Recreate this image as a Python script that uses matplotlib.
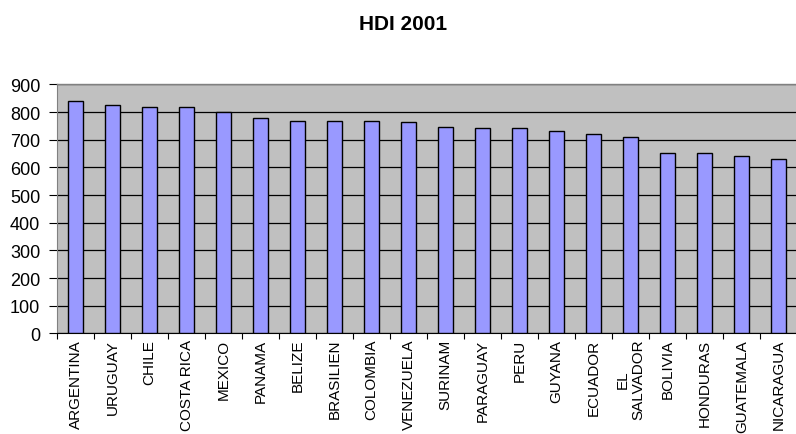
import matplotlib.pyplot as plt
import numpy as np

plt.rcParams['font.family'] = ['Liberation Sans', 'DejaVu Sans']

# 国家与 HDI 数值 (x1000)
countries = ["ARGENTINA", "URUGUAY", "CHILE", "COSTA RICA", "MEXICO", "PANAMA",
             "BELIZE", "BRASILIEN", "COLOMBIA", "VENEZUELA", "SURINAM", "PARAGUAY",
             "PERU", "GUYANA", "ECUADOR", "EL\nSALVADOR", "BOLIVIA", "HONDURAS",
             "GUATEMALA", "NICARAGUA"]
hdi_values = [840, 824, 820, 820, 800, 779, 769, 769, 769, 764, 747, 743,
              743, 733, 722, 711, 651, 651, 641, 631]
y_ticks = [0, 100, 200, 300, 400, 500, 600, 700, 800, 900]

fig = plt.figure(figsize=(7.96, 4.35), dpi=100)
ax = fig.add_axes([0.0716, 0.2315, 0.93, 0.572])
ax.set_facecolor("#c0c0c0")

x = np.arange(len(countries))
ax.bar(x, hdi_values, width=0.41, color="#9999ff", edgecolor="black", linewidth=1.0, zorder=3)

# 网格线
ax.set_ylim(0, 900)
ax.set_xlim(-0.5, len(countries) - 0.5)
ax.set_yticks(y_ticks)
ax.set_yticklabels([str(v) for v in y_ticks], fontsize=13)
ax.yaxis.grid(True, color="black", linewidth=0.9, zorder=1)
ax.set_axisbelow(True)

# 类别标签与分隔刻度
ax.set_xticks(x)
ax.set_xticklabels(countries, rotation=90, fontsize=11, va="top", ha="center",
                   multialignment="center")
ax.tick_params(axis="x", which="major", length=0, pad=4)
ax.set_xticks(np.arange(-0.5, len(countries), 1.0), minor=True)
ax.tick_params(axis="x", which="minor", length=4, color="black", width=0.8)
ax.tick_params(axis="y", length=6, color="black", width=0.8, pad=6)

for side in ["top", "right", "left"]:
    ax.spines[side].set_color("#808080")
ax.spines["bottom"].set_color("black")
ax.spines["top"].set_linewidth(1.0)

fig.text(0.506, 0.943, "HDI 2001", fontsize=15, fontweight="bold", ha="center", va="center")

fig.savefig("out.png", dpi=100)
